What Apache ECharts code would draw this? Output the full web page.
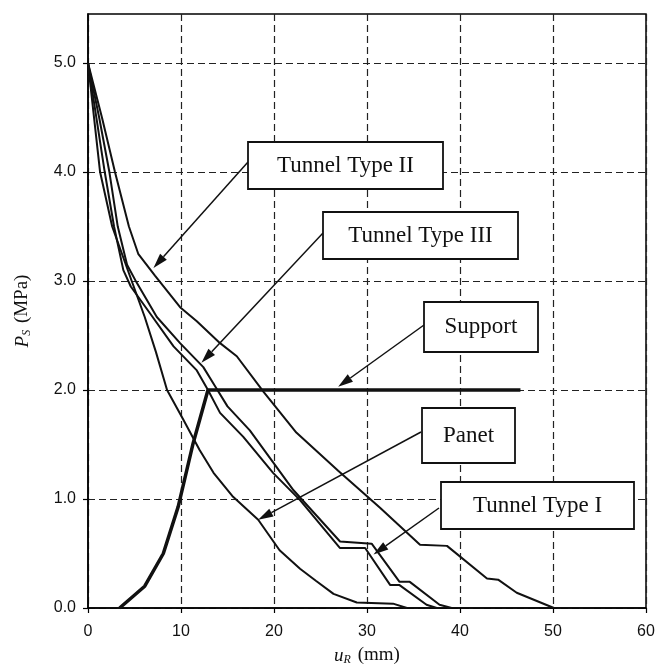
<!DOCTYPE html>
<html><head><meta charset="utf-8">
<script src="https://cdn.jsdelivr.net/npm/echarts@6/dist/echarts.min.js"></script>
<style>html,body{margin:0;padding:0;background:#fff}#c{width:662px;height:672px}</style>
</head><body><div id="c"></div>
<script>
// Axis ticks
const xTicks = [0, 10, 20, 30, 40, 50, 60];
const yTicks = [0, 1, 2, 3, 4, 5];

// Curves: [u_R (mm), P_S (MPa)]
const tunnelTypeII = [[0,5],[1.5,4.5],[2.9,4.0],[4.4,3.5],[5.4,3.25],[7.2,3.05],[9.9,2.76],[11.7,2.63],[14.2,2.43],[16.0,2.31],[18.9,1.98],[22.4,1.61],[26.9,1.26],[31.4,0.92],[35.7,0.58],[38.6,0.57],[42.9,0.27],[44.1,0.26],[46.1,0.14],[50.1,0]];
const tunnelTypeIII = [[0,5],[1.2,4.5],[2.3,4.0],[3.2,3.5],[4.2,3.15],[5.2,2.99],[7.4,2.67],[9.9,2.43],[12.4,2.21],[13.7,2.03],[15.0,1.85],[17.4,1.63],[22.1,1.08],[27.1,0.61],[30.5,0.59],[33.5,0.24],[34.6,0.24],[37.8,0.03],[39.1,0]];
const tunnelTypeI = [[0,5],[0.9,4.5],[1.8,4.0],[2.8,3.5],[3.8,3.1],[4.6,2.95],[6.7,2.70],[9.2,2.40],[11.7,2.18],[12.9,2.0],[14.2,1.79],[16.7,1.57],[19.9,1.24],[22.8,0.99],[27.1,0.55],[29.8,0.55],[32.5,0.21],[33.5,0.21],[36.4,0.03],[37.5,0]];
const panet = [[0,5],[1.3,4.0],[2.6,3.5],[4.7,3.0],[6.1,2.67],[7.3,2.35],[8.5,2.0],[10.3,1.72],[12.0,1.45],[13.5,1.24],[15.6,1.02],[18.3,0.81],[20.6,0.53],[22.8,0.36],[24.5,0.25],[26.4,0.13],[28.9,0.05],[32.8,0.04],[34.3,0]];
const support = [[3.4,0],[6.1,0.2],[8.1,0.5],[9.7,0.93],[11.3,1.51],[12.9,2.0],[46.5,2.0]];

// Annotation labels: text, tip point in data units
const labelTexts = ['Tunnel Type II', 'Tunnel Type III', 'Support', 'Panet', 'Tunnel Type I'];
const labelTips = [[7.04,3.12],[12.2,2.25],[26.9,2.03],[18.3,0.81],[30.7,0.49]];
// layout of boxes (pixels): x, y, w, h ; arrow start (pixels)
const labelBoxes = [[248,142,195,47],[323,212,195,47],[424,302,114,50],[422,408,93,55],[441,482,193,47]];
const labelStarts = [[248,162],[323,233],[424,325],[421,432],[439,508]];

const chart = echarts.init(document.getElementById('c'), null, {renderer:'canvas'});
const lineS = (name, data, w) => ({
  name, type:'line', data, showSymbol:false, symbol:'none',
  lineStyle:{color:'#111', width:w}, z:3, animation:false
});
const axisFont = {fontFamily:'"Liberation Sans", Arial, sans-serif', fontSize:16, color:'#111'};
const nameStyle = {fontFamily:'"Liberation Serif", serif', fontSize:19, color:'#111',
  rich:{i:{fontStyle:'italic', fontFamily:'"Liberation Serif", serif', fontSize:19, color:'#111'},
        sub:{fontStyle:'italic', fontFamily:'"Liberation Serif", serif', fontSize:12, color:'#111', padding:[9,2,0,0]}}};
chart.setOption({
  animation:false,
  backgroundColor:'#fff',
  grid:{left:88, right:16, top:14, bottom:64, show:true, borderColor:'#000', borderWidth:1.5, backgroundColor:'transparent'},
  xAxis:{
    type:'value', min:xTicks[0], max:xTicks[xTicks.length-1], interval:10,
    name:'{i|u}{sub|R} (mm)', nameLocation:'middle', nameGap:37, nameTextStyle:nameStyle,
    axisLine:{show:true, lineStyle:{color:'#000', width:1.5}},
    axisTick:{show:true, length:5, customValues:xTicks, lineStyle:{color:'#000', width:1.2}},
    axisLabel:Object.assign({margin:16, customValues:xTicks}, axisFont),
    splitLine:{show:true, lineStyle:{color:'#222', width:1.2, type:[7,4]}}
  },
  yAxis:{
    type:'value', min:yTicks[0], max:5.45, interval:1,
    name:'{i|P}{sub|S} (MPa)', nameLocation:'middle', nameGap:55, nameRotate:90, nameTextStyle:nameStyle,
    axisLine:{show:true, lineStyle:{color:'#000', width:1.5}},
    axisTick:{show:true, length:5, customValues:yTicks, lineStyle:{color:'#000', width:1.2}},
    axisLabel:Object.assign({margin:12, customValues:yTicks, formatter:v => Number(v).toFixed(1)}, axisFont),
    splitLine:{show:true, lineStyle:{color:'#222', width:1.2, type:[7,4]}}
  },
  series:[
    lineS('Tunnel Type II', tunnelTypeII, 2),
    lineS('Tunnel Type III', tunnelTypeIII, 2),
    lineS('Tunnel Type I', tunnelTypeI, 2),
    lineS('Panet', panet, 2),
    lineS('Support', support, 3.5)
  ]
});

// annotations
const g = [];
labelTexts.forEach((t, i) => {
  const [bx, by, bw, bh] = labelBoxes[i];
  const [sx, sy] = labelStarts[i];
  const [tx, ty] = chart.convertToPixel({gridIndex:0}, labelTips[i]);
  const dx = tx - sx, dy = ty - sy, L = Math.hypot(dx, dy);
  const ux = dx / L, uy = dy / L, hl = 15, hw = 4.5;
  const baseX = tx - ux*hl, baseY = ty - uy*hl;
  g.push({type:'line', z:10, shape:{x1:sx, y1:sy, x2:baseX, y2:baseY}, style:{stroke:'#111', lineWidth:1.5}});
  g.push({type:'polygon', z:10, shape:{points:[[tx,ty],[baseX - uy*hw, baseY + ux*hw],[baseX + uy*hw, baseY - ux*hw]]}, style:{fill:'#111'}});
  g.push({type:'rect', z:11, shape:{x:bx, y:by, width:bw, height:bh}, style:{fill:'#fff', stroke:'#111', lineWidth:1.8}});
  g.push({type:'text', z:12, x:bx + bw/2, y:by + bh/2, style:{text:t, fill:'#111', font:'23px "Liberation Serif", "Times New Roman", serif', align:'center', verticalAlign:'middle'}});
});
chart.setOption({graphic:g});
</script>
</body></html>
